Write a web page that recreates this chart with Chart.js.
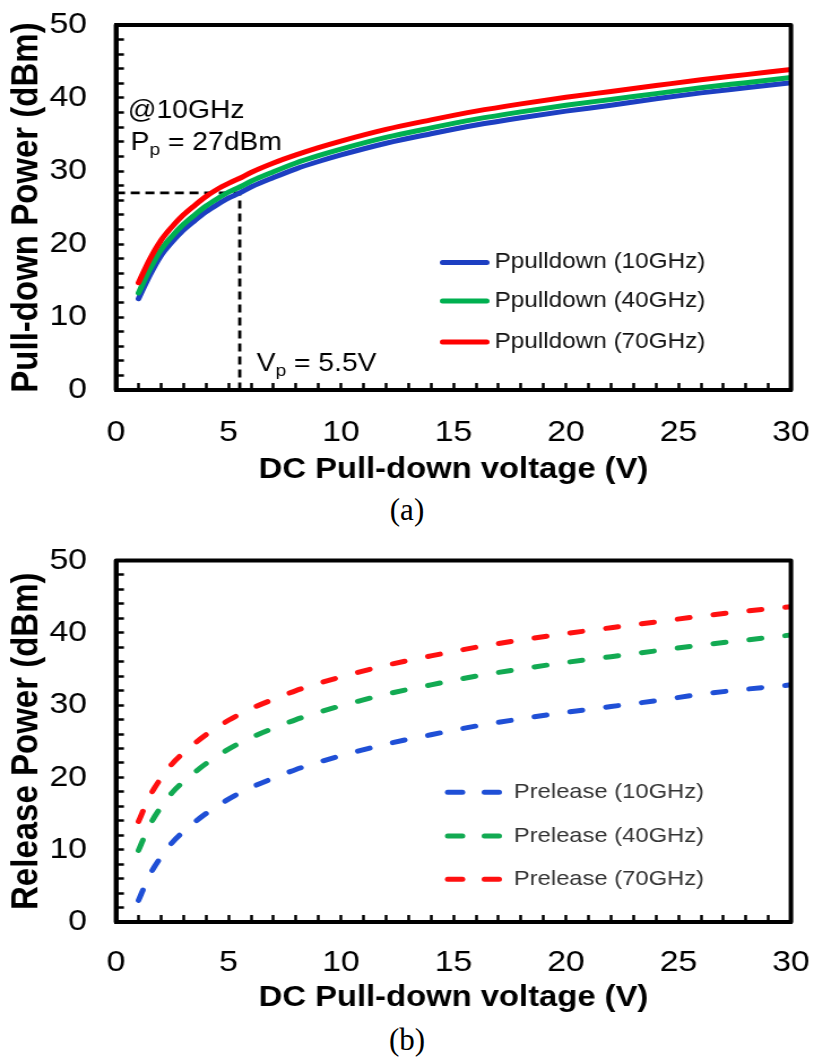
<!DOCTYPE html>
<html>
<head>
<meta charset="utf-8">
<script src="https://cdn.jsdelivr.net/npm/chart.js@4.4.1/dist/chart.umd.min.js"></script>
<style>
html,body{margin:0;padding:0;background:#fff;}
body{width:814px;height:1057px;position:relative;overflow:hidden;}
.wrap{position:absolute;left:0;width:720px;transform:scaleX(1.1305556);transform-origin:0 0;}
#wa{top:0;height:491px;}
#wb{top:535px;height:484px;}
canvas{display:block;}
.cap{position:absolute;left:0;width:814px;text-align:center;font-family:'Liberation Serif','Times New Roman',serif;font-size:31px;color:#000;line-height:36px;}
</style>
</head>
<body>
<div class="wrap" id="wa"><canvas id="ca" width="720" height="491"></canvas></div>
<div class="wrap" id="wb"><canvas id="cb" width="720" height="484"></canvas></div>
<div class="cap" style="top:492px;">(a)</div>
<div class="cap" style="top:1022px;">(b)</div>
<script>
// ---------- data ----------
const voltageA   = [1, 1.5, 2, 2.5, 3, 3.5, 4, 4.5, 5, 5.5, 6, 7, 8, 9, 10, 12, 14, 16, 18, 20, 22, 24, 26, 28, 30];
const pulldown10 = [12.5, 15.7, 18.4, 20.3, 21.9, 23.2, 24.4, 25.4, 26.3, 27.0, 27.8, 29.1, 30.3, 31.3, 32.2, 33.8, 35.1, 36.3, 37.3, 38.2, 39.0, 39.9, 40.7, 41.4, 42.1];
const pulldown40 = [13.3, 16.5, 19.2, 21.1, 22.7, 24.0, 25.2, 26.2, 27.1, 27.8, 28.6, 29.9, 31.1, 32.1, 33.0, 34.6, 35.9, 37.1, 38.1, 39.0, 39.8, 40.6, 41.4, 42.1, 42.8];
const pulldown70 = [14.7, 17.9, 20.5, 22.4, 24.0, 25.3, 26.5, 27.5, 28.3, 29.0, 29.8, 31.1, 32.2, 33.2, 34.1, 35.7, 37.0, 38.2, 39.2, 40.1, 40.9, 41.7, 42.5, 43.2, 43.9];
const markerV    = [0, 5.5, 5.5];
const markerP    = [27, 27, 0];

const voltageB   = [1, 1.5, 2, 2.5, 3, 4, 5, 6, 7, 8, 9, 10, 12, 14, 16, 18, 20, 22, 24, 26, 28, 30];
const release10  = [3.0, 6.5, 9.0, 11.0, 12.5, 15.0, 17.0, 18.6, 19.9, 21.1, 22.1, 23.0, 24.6, 25.9, 27.1, 28.1, 29.0, 29.8, 30.6, 31.5, 32.2, 32.8];
const release40  = [9.9, 13.4, 15.9, 17.9, 19.4, 21.9, 23.9, 25.5, 26.8, 28.0, 29.0, 29.9, 31.5, 32.8, 34.0, 35.0, 35.9, 36.7, 37.5, 38.3, 39.0, 39.7];
const release70  = [13.9, 17.4, 19.9, 21.9, 23.4, 25.9, 27.9, 29.5, 30.8, 32.0, 33.0, 33.9, 35.5, 36.8, 38.0, 39.0, 39.9, 40.7, 41.5, 42.3, 43.0, 43.6];

const xTickLabels = [0, 5, 10, 15, 20, 25, 30];
const yTickLabels = [0, 10, 20, 30, 40, 50];
const namesA = ['Ppulldown (10GHz)', 'Ppulldown (40GHz)', 'Ppulldown (70GHz)'];
const namesB = ['Prelease (10GHz)', 'Prelease (40GHz)', 'Prelease (70GHz)'];
const colorsA = ['#1d3fc2', '#00b050', '#ff0000'];
const colorsB = ['#1f4fd6', '#12aa52', '#ff1010'];

// ---------- helpers ----------
const SANS = "'Liberation Sans', Arial, sans-serif";
const pts = (xs, ys) => xs.map((x, i) => ({x: x, y: ys[i]}));

const framePlugin = {
  id: 'frame',
  afterDraw(chart) {
    const {ctx, chartArea: a} = chart;
    ctx.save();
    ctx.strokeStyle = '#000';
    ctx.lineWidth = 4;
    ctx.lineJoin = 'round';
    ctx.strokeRect(a.left, a.top, a.right - a.left, a.bottom - a.top);
    ctx.restore();
  }
};

function legendPlugin(names, colors, opt) {
  return {
    id: 'customLegend',
    afterDraw(chart) {
      const ctx = chart.ctx;
      ctx.save();
      ctx.font = opt.font;
      ctx.textBaseline = 'middle';
      ctx.textAlign = 'left';
      names.forEach((n, i) => {
        const y = opt.rows[i];
        ctx.strokeStyle = colors[i];
        ctx.lineWidth = 5;
        ctx.lineCap = 'round';
        opt.segs.forEach(s => {
          ctx.beginPath();
          ctx.moveTo(s[0], y);
          ctx.lineTo(s[1], y);
          ctx.stroke();
        });
        ctx.fillStyle = opt.textColor;
        ctx.fillText(n, opt.textX, y);
      });
      ctx.restore();
    }
  };
}

const notesPlugin = {
  id: 'notes',
  afterDraw(chart) {
    const ctx = chart.ctx;
    ctx.save();
    ctx.fillStyle = '#000';
    ctx.textBaseline = 'alphabetic';
    ctx.textAlign = 'left';
    const big = '25px ' + SANS, small = '17px ' + SANS;
    function sub(main, s, rest, x, y) {
      ctx.font = big; ctx.fillText(main, x, y);
      x += ctx.measureText(main).width;
      ctx.font = small; ctx.fillText(s, x, y + 5);
      x += ctx.measureText(s).width;
      ctx.font = big; ctx.fillText(rest, x, y);
    }
    ctx.font = big;
    ctx.fillText('@10GHz', 113, 118);
    sub('P', 'p', ' = 27dBm', 115.5, 150);
    sub('V', 'p', ' = 5.5V', 227, 370.5);
    ctx.restore();
  }
};

function zeroPad(s) { s.paddingTop = 0; s.paddingBottom = 0; s.paddingLeft = 0; s.paddingRight = 0; }

function axes(cfg) {
  return {
    x: {
      type: 'linear', min: 0, max: 30,
      afterFit(s) { s.height = cfg.xHeight; zeroPad(s); },
      ticks: {
        stepSize: 1, autoSkip: false, maxRotation: 0, minRotation: 0,
        padding: cfg.xPad, color: '#000', font: {family: SANS, size: 30},
        callback: v => xTickLabels.includes(v) ? String(v) : ''
      },
      grid: {display: true, drawOnChartArea: false, drawTicks: true, tickLength: -7, tickWidth: 2.5, tickColor: '#000'},
      border: {display: true, width: 4, color: '#000'},
      title: {display: true, text: 'DC Pull-down voltage (V)', color: '#000',
              font: {family: SANS, size: 29, weight: 'bold'}, padding: {top: 0, bottom: 4}}
    },
    y: {
      type: 'linear', min: 0, max: 50,
      afterFit(s) { s.width = 102.6; zeroPad(s); },
      ticks: {
        stepSize: 2, autoSkip: false, padding: 32.6, color: '#000', font: {family: SANS, size: 30},
        callback: v => yTickLabels.includes(v) ? String(v) : ''
      },
      grid: {display: true, drawOnChartArea: false, drawTicks: true, tickLength: -7, tickWidth: 2.5, tickColor: '#000'},
      border: {display: true, width: 4, color: '#000'},
      title: {display: true, text: cfg.yTitle, color: '#000',
              font: {family: SANS, size: 33, weight: 'bold'}, padding: {top: 4, bottom: 0}}
    }
  };
}

function lineDs(label, xs, ys, color, extra) {
  return Object.assign({
    label: label, data: pts(xs, ys), borderColor: color, backgroundColor: color,
    borderWidth: 5, pointRadius: 0, fill: false, cubicInterpolationMode: 'monotone',
    borderCapStyle: 'round', borderJoinStyle: 'round'
  }, extra || {});
}

// ---------- chart (a) ----------
new Chart(document.getElementById('ca'), {
  type: 'line',
  data: {
    datasets: [
      lineDs('marker', markerV, markerP, '#000', {borderWidth: 2.8, borderDash: [8, 5], borderCapStyle: 'butt', cubicInterpolationMode: 'default', tension: 0, order: 4}),
      lineDs(namesA[0], voltageA, pulldown10, colorsA[0], {order: 3}),
      lineDs(namesA[1], voltageA, pulldown40, colorsA[1], {order: 2}),
      lineDs(namesA[2], voltageA, pulldown70, colorsA[2], {order: 1})
    ]
  },
  options: {
    responsive: false, animation: false, devicePixelRatio: 1,
    layout: {autoPadding: false, padding: {top: 25, right: 20.4, left: 0, bottom: 0}},
    plugins: {legend: {display: false}, tooltip: {enabled: false}},
    scales: axes({xHeight: 101, xPad: 32, yTitle: 'Pull-down Power (dBm)'})
  },
  plugins: [framePlugin, notesPlugin,
    legendPlugin(namesA, colorsA, {font: '21.5px ' + SANS, rows: [262.5, 301, 342], segs: [[391.5, 430.5]], textX: 437.5, textColor: '#111'})]
});

// ---------- chart (b) ----------
new Chart(document.getElementById('cb'), {
  type: 'line',
  data: {
    datasets: [
      lineDs(namesB[0], voltageB, release10, colorsB[0], {borderDash: [11, 21], order: 3}),
      lineDs(namesB[1], voltageB, release40, colorsB[1], {borderDash: [11, 21], order: 2}),
      lineDs(namesB[2], voltageB, release70, colorsB[2], {borderDash: [11, 21], order: 1})
    ]
  },
  options: {
    responsive: false, animation: false, devicePixelRatio: 1,
    layout: {autoPadding: false, padding: {top: 25.5, right: 20.4, left: 0, bottom: 0}},
    plugins: {legend: {display: false}, tooltip: {enabled: false}},
    scales: axes({xHeight: 97, xPad: 30, yTitle: 'Release Power (dBm)'})
  },
  plugins: [framePlugin,
    legendPlugin(namesB, colorsB, {font: '21px ' + SANS, rows: [257.3, 301, 344.3], segs: [[396, 409], [428.5, 441.5]], textX: 454.6, textColor: '#333'})]
});
</script>
</body>
</html>
